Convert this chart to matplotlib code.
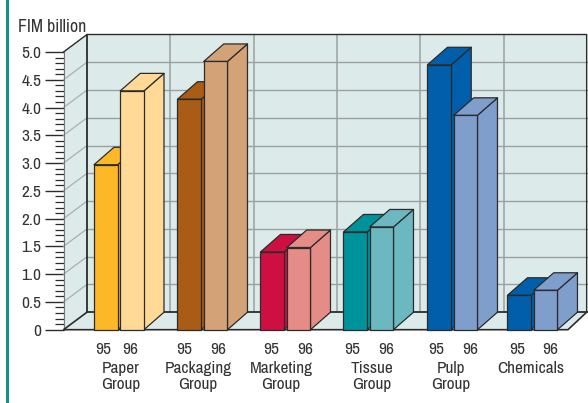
import matplotlib
matplotlib.use("Agg")
import matplotlib.pyplot as plt
from matplotlib.ticker import MultipleLocator
from matplotlib.patches import Rectangle
from matplotlib import font_manager as fm

# Prefer a narrow grotesque for all chart text
installed = {f.name for f in fm.fontManager.ttflist}
narrow = [n for n in ("Liberation Sans Narrow", "Archivo Narrow") if n in installed]
plt.rcParams['font.family'] = narrow[:1] + ['Liberation Sans', 'DejaVu Sans']

groups = ["Paper\nGroup", "Packaging\nGroup", "Marketing\nGroup", "Tissue\nGroup", "Pulp\nGroup", "Chemicals"]
years = ["95", "96"]
values_95 = [2.97, 4.15, 1.40, 1.76, 4.77, 0.62]
values_96 = [4.30, 4.83, 1.48, 1.85, 3.86, 0.71]
colors_95 = ["#FDB827", "#A95C16", "#CE0F41", "#00929A", "#005EAA", "#005EAA"]
colors_96 = ["#FFD995", "#D3A377", "#E68C87", "#6CB8C1", "#7F9ECC", "#7F9ECC"]

# Layout of the pseudo-3D box, in axis units
W, H = 588, 403
LEFT, BASE, TOP_PX = 63.5, 329.7, 52.0
SLOT_PX = 83.33
bar_start = [0.366, 1.368, 2.364, 3.360, 4.368, 5.328]
bar_w = 0.285
bar_gap = 0.315
bar_dx, bar_dy = 0.24, 0.315
wall_dx, wall_dy = 0.282, 0.315
floor_right = 6.054
wall_right = 6.278
year_label_x = [(0.483, 0.807), (1.446, 1.854), (2.490, 2.898), (3.462, 3.870), (4.470, 4.878), (5.442, 5.838)]
group_label_x = [0.690, 1.614, 2.610, 3.702, 4.650, 5.610]

EDGE = "#2b2b2b"
GRID = "#9aa0a1"
WALL = "#DCEBEA"
TEXT = "#333333"

fig = plt.figure(figsize=(W / 100, H / 100), dpi=100, facecolor="white")
ax = fig.add_axes([LEFT / W, 1 - BASE / H, 6 * SLOT_PX / W, (BASE - TOP_PX) / H])
ax.set_xlim(0, 6)
ax.set_ylim(0, 5)
ax.patch.set_visible(False)
for name in ("top", "right", "bottom"):
    ax.spines[name].set_visible(False)
ax.spines["left"].set_color("#777777")
ax.spines["left"].set_linewidth(0.8)

# Box walls and floor
ax.fill([wall_dx, wall_right, wall_right, wall_dx],
        [wall_dy, wall_dy, 5 + wall_dy, 5 + wall_dy], color=WALL, lw=0, clip_on=False, zorder=1)
ax.fill([0, wall_dx, wall_dx, 0], [0, wall_dy, 5 + wall_dy, 5],
        color=WALL, lw=0, clip_on=False, zorder=1)
ax.fill([0, wall_dx, wall_right, floor_right], [0, wall_dy, wall_dy, 0],
        color=WALL, lw=0, clip_on=False, zorder=1)

# Gridlines on the back and side walls
for k in range(1, 10):
    v = k * 0.5
    ax.plot([wall_dx, wall_right], [v + wall_dy] * 2, color=GRID, lw=1.0, clip_on=False, zorder=2)
    ax.plot([0, wall_dx], [v, v + wall_dy], color="#a9aeaf", lw=0.9, clip_on=False, zorder=2)
for k in range(1, 6):
    ax.plot([wall_dx + k] * 2, [wall_dy, 5 + wall_dy], color=GRID, lw=1.1, clip_on=False, zorder=2)

# Box outline
ax.plot([wall_dx, wall_dx], [wall_dy, 5 + wall_dy], color=EDGE, lw=1.3, clip_on=False, zorder=3)
ax.plot([0, wall_dx, wall_right, wall_right], [5, 5 + wall_dy, 5 + wall_dy, wall_dy],
        color=EDGE, lw=1.0, clip_on=False, zorder=3)
ax.plot([wall_dx, wall_right], [wall_dy, wall_dy], color=EDGE, lw=1.3, clip_on=False, zorder=3)
ax.plot([wall_right, floor_right, 0, wall_dx], [wall_dy, 0, 0, wall_dy],
        color=EDGE, lw=1.2, clip_on=False, zorder=3)


def draw_bar(x0, value, color, z):
    x1 = x0 + bar_w
    kw = dict(facecolor=color, edgecolor=EDGE, lw=0.9, clip_on=False, zorder=z, joinstyle="round")
    ax.fill([x1, x1 + bar_dx, x1 + bar_dx, x1], [0, bar_dy, value + bar_dy, value], **kw)
    ax.fill([x0, x0 + bar_dx, x1 + bar_dx, x1], [value, value + bar_dy, value + bar_dy, value], **kw)
    ax.add_patch(Rectangle((x0, 0), bar_w, value, **kw))


for i, start in enumerate(bar_start):
    draw_bar(start, values_95[i], colors_95[i], 4 + i * 0.1)
    draw_bar(start + bar_gap, values_96[i], colors_96[i], 4 + i * 0.1 + 0.05)

# Value axis
ax.yaxis.set_minor_locator(MultipleLocator(0.1))
ax.set_yticks([k * 0.5 for k in range(11)])
ax.set_yticklabels(["0"] + [f"{k * 0.5:.1f}" for k in range(1, 11)])
ax.tick_params(axis="y", which="major", length=13.5, width=1.0, color=EDGE,
               labelsize=12.5, labelcolor=TEXT, pad=2.5)
ax.tick_params(axis="y", which="minor", length=6.5, width=0.9, color=EDGE)

# Year labels along the category axis
ax.set_xticks([x for pair in year_label_x for x in pair])
ax.set_xticklabels(years * len(groups))
ax.tick_params(axis="x", length=0, labelsize=12.5, labelcolor=TEXT, pad=8.5)

for x, name in zip(group_label_x, groups):
    ax.annotate(name, xy=(x, 0), xycoords=("data", "axes fraction"),
                xytext=(0, -22.5), textcoords="offset points",
                ha="center", va="top", fontsize=12.4, color=TEXT, linespacing=1.1)

fig.text(18 / W, 1 - 27 / H, "FIM billion", fontsize=12.8, color=TEXT, ha="left", va="center")

# Teal rule down the left edge
fig.add_artist(Rectangle((6 / W, 0), 2.6 / W, 1, transform=fig.transFigure,
                         facecolor="#12908A", edgecolor="none"))

fig.savefig("out.png", dpi=100, facecolor="white")
